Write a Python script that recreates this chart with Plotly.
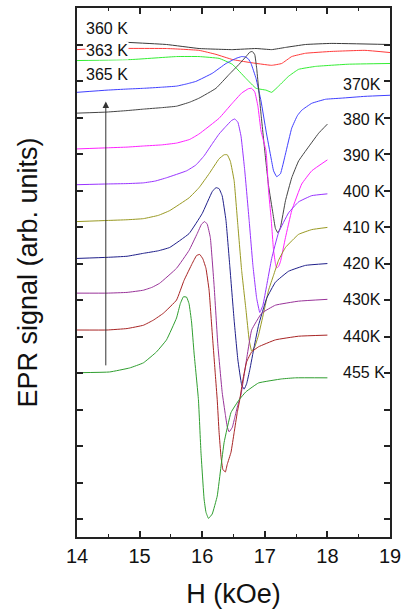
import plotly.graph_objects as go

# ---------------- data (H in kOe, signal in arb. units, offset per temperature) ----------------
H_360 = [14.79, 15.43, 15.95, 16.48, 16.86, 17.11, 17.33, 17.65, 18.06, 19.00]
S_360 = [13.06, 13.00, 12.89, 12.86, 12.89, 12.86, 12.92, 13.00, 13.03, 13.00]

H_363 = [14.00, 14.37, 15.43, 15.95, 16.22, 16.48, 16.75, 17.11, 17.27, 17.43, 17.65, 18.06, 18.60, 19.00]
S_363 = [12.86, 12.89, 12.89, 12.84, 12.73, 12.59, 12.51, 12.43, 12.48, 12.67, 12.76, 12.81, 12.84, 12.78]

H_365 = [14.00, 14.89, 15.59, 15.95, 16.27, 16.48, 16.70, 16.86, 17.02, 17.11, 17.22, 17.38, 17.54, 17.81, 18.33, 19.00]
S_365 = [12.56, 12.59, 12.67, 12.67, 12.62, 12.46, 12.07, 11.80, 11.75, 11.69, 11.86, 12.13, 12.32, 12.40, 12.46, 12.48]

H_370 = [14.00, 14.48, 14.80, 15.06, 15.35, 15.59, 15.75, 15.90, 16.16, 16.38, 16.54, 16.63, 16.69, 16.74, 16.78,
         16.86, 16.94, 17.02, 17.10, 17.14, 17.19, 17.25, 17.33, 17.43, 17.52, 17.59, 17.75, 17.97, 18.22,
         18.60, 19.00]
S_370 = [11.69, 11.75, 11.78, 11.80, 11.83, 11.86, 11.92, 11.99, 12.21, 12.48, 12.62, 12.67, 12.66, 12.60, 12.48,
         12.07, 11.45, 10.63, 9.89, 9.54, 9.38, 9.46, 10.00, 10.71, 11.05, 11.20, 11.39, 11.50, 11.53,
         11.58, 11.61]

H_380 = [14.00, 14.48, 14.80, 15.06, 15.35, 15.59, 15.80, 15.95, 16.22, 16.43, 16.59, 16.70, 16.76, 16.80, 16.84,
         16.87, 16.94, 17.00, 17.06, 17.13, 17.17, 17.21, 17.25, 17.33, 17.43, 17.54, 17.65, 17.86, 18.00]
S_380 = [11.12, 11.15, 11.19, 11.23, 11.27, 11.31, 11.42, 11.53, 11.80, 12.18, 12.46, 12.67, 12.79, 12.81, 12.72,
         12.35, 11.09, 10.08, 9.13, 8.37, 7.96, 7.84, 7.99, 8.72, 9.35, 9.81, 10.08, 10.57, 10.82]

H_390 = [14.00, 14.48, 14.80, 15.06, 15.35, 15.59, 15.80, 15.95, 16.27, 16.48, 16.63, 16.74, 16.79, 16.84, 16.89,
         16.94, 17.02, 17.06, 17.10, 17.14, 17.17, 17.19, 17.22, 17.25, 17.33, 17.43, 17.59, 17.75, 18.00]
S_390 = [10.14, 10.17, 10.19, 10.22, 10.25, 10.30, 10.40, 10.55, 10.98, 11.39, 11.67, 11.79, 11.80, 11.70, 11.31,
         10.63, 10.08, 8.99, 8.26, 7.36, 7.00, 6.88, 6.92, 7.05, 7.71, 8.45, 9.18, 9.54, 9.84]

H_400 = [14.00, 14.48, 14.80, 15.06, 15.25, 15.43, 15.75, 15.90, 16.03, 16.16, 16.27, 16.38, 16.47, 16.52, 16.57,
         16.62, 16.68, 16.75, 16.81, 16.87, 16.92, 16.97, 17.03, 17.11, 17.22, 17.38, 17.54, 17.75, 18.00]
S_400 = [9.16, 9.18, 9.19, 9.21, 9.26, 9.35, 9.54, 9.70, 9.95, 10.28, 10.55, 10.76, 10.92, 10.96, 10.87,
         10.49, 9.54, 8.18, 6.95, 6.05, 5.66, 5.86, 6.40, 7.14, 7.85, 8.39, 8.69, 8.86, 8.91]

H_410 = [14.00, 14.48, 14.80, 15.06, 15.30, 15.48, 15.79, 15.95, 16.11, 16.27, 16.35, 16.40, 16.45, 16.51, 16.57,
         16.63, 16.70, 16.75, 16.79, 16.84, 16.90, 16.98, 17.06, 17.14, 17.22, 17.33, 17.54, 17.75, 18.00]
S_410 = [8.15, 8.18, 8.20, 8.23, 8.32, 8.45, 8.80, 9.08, 9.46, 9.87, 9.98, 9.98, 9.80, 9.27, 8.04,
         6.81, 5.72, 4.91, 4.60, 4.72, 5.04, 5.64, 6.27, 6.68, 7.09, 7.44, 7.80, 7.93, 7.99]

H_420 = [14.00, 14.48, 14.80, 15.06, 15.30, 15.48, 15.79, 16.00, 16.16, 16.22, 16.27, 16.32, 16.38, 16.44, 16.51,
         16.57, 16.63, 16.67, 16.71, 16.76, 16.83, 16.90, 17.03, 17.17, 17.38, 17.65, 18.00]
S_420 = [7.14, 7.17, 7.20, 7.28, 7.35, 7.44, 7.82, 8.37, 8.97, 9.08, 9.05, 8.85, 8.18, 6.95, 5.45,
         4.36, 3.68, 3.56, 3.71, 4.09, 4.72, 5.31, 6.05, 6.49, 6.79, 6.95, 7.00]

H_430 = [14.00, 14.48, 14.80, 15.06, 15.20, 15.32, 15.59, 15.79, 15.92, 15.99, 16.04, 16.08, 16.13, 16.19, 16.25,
         16.32, 16.37, 16.40, 16.43, 16.48, 16.52, 16.57, 16.62, 16.70, 16.79, 16.95, 17.17, 17.54, 18.00]
S_430 = [6.19, 6.19, 6.21, 6.27, 6.35, 6.46, 6.87, 7.36, 7.82, 8.08, 8.15, 8.08, 7.71, 6.40, 4.77,
         3.46, 2.86, 2.53, 2.39, 2.51, 2.78, 3.13, 3.41, 4.28, 5.18, 5.64, 5.86, 5.97, 6.02]

H_440 = [14.00, 14.48, 14.80, 15.06, 15.22, 15.38, 15.59, 15.71, 15.84, 15.91, 15.96, 16.01, 16.06, 16.11, 16.16,
         16.21, 16.24, 16.27, 16.30, 16.33, 16.37, 16.40, 16.46, 16.51, 16.56, 16.60, 16.65, 16.71, 16.79,
         16.90, 17.17, 17.54, 18.00]
S_440 = [5.18, 5.18, 5.22, 5.31, 5.45, 5.64, 6.00, 6.54, 7.00, 7.22, 7.25, 7.13, 6.87, 6.27, 5.10,
         3.95, 3.27, 2.37, 1.72, 1.36, 1.29, 1.50, 1.83, 2.37, 2.92, 3.27, 3.82, 4.31, 4.58,
         4.72, 4.91, 5.01, 5.04]

H_455 = [14.00, 14.52, 14.84, 15.06, 15.27, 15.43, 15.59, 15.65, 15.70, 15.75, 15.79, 15.83, 15.87, 15.94, 15.98,
         16.03, 16.06, 16.10, 16.16, 16.24, 16.30, 16.35, 16.46, 16.59, 16.70, 16.90, 17.27, 17.49, 18.00]
S_455 = [4.01, 4.03, 4.14, 4.28, 4.58, 4.91, 5.51, 5.90, 6.09, 6.08, 5.90, 5.40, 4.55, 3.27, 1.84,
         0.55, 0.19, 0.02, 0.14, 0.63, 1.44, 2.10, 2.92, 3.27, 3.49, 3.73, 3.84, 3.87, 3.87]

# right-hand / left-hand temperature labels
LEFT_LABELS = ["360 K", "363 K", "365 K"]
LEFT_LABEL_Y = [13.44, 12.84, 12.18]
RIGHT_LABELS = ["370K", "380 K", "390 K", "400 K", "410 K", "420 K", "430K", "440K", "455 K"]
RIGHT_LABEL_Y = [11.91, 10.95, 9.97, 8.98, 7.99, 7.00, 6.02, 5.01, 4.01]

X_TICKS = [14, 15, 16, 17, 18, 19]
Y_TICKS = list(range(0, 14))

# arrow (temperature direction)
ARROW_H = 14.46
ARROW_FROM = 4.17
ARROW_TO = 11.44

series = [
    (H_360, S_360, "#3a3a3a"),
    (H_363, S_363, "#ff3a3a"),
    (H_365, S_365, "#33ee33"),
    (H_370, S_370, "#4040ff"),
    (H_380, S_380, "#444444"),
    (H_390, S_390, "#ff22ff"),
    (H_400, S_400, "#9933ff"),
    (H_410, S_410, "#999922"),
    (H_420, S_420, "#1f1f8a"),
    (H_430, S_430, "#993399"),
    (H_440, S_440, "#a82424"),
    (H_455, S_455, "#2f9e2f"),
]

FONT = "Arial, Liberation Sans, sans-serif"

fig = go.Figure()
for hx, sy, col in series:
    fig.add_trace(go.Scatter(x=hx, y=sy, mode="lines",
                             line=dict(color=col, width=1, shape="spline", smoothing=0.3),
                             showlegend=False, hoverinfo="skip"))

annotations = []
for txt, yv in zip(LEFT_LABELS, LEFT_LABEL_Y):
    annotations.append(dict(x=14.12, y=yv, xref="x", yref="y", text=txt, showarrow=False,
                            xanchor="left", yanchor="middle",
                            bgcolor="white" if txt == "363 K" else None,
                            borderpad=0,
                            font=dict(family=FONT, size=16, color="#111")))
for txt, yv in zip(RIGHT_LABELS, RIGHT_LABEL_Y):
    annotations.append(dict(x=18.21, y=yv, xref="x", yref="y", text=txt, showarrow=False,
                            xanchor="left", yanchor="middle",
                            font=dict(family=FONT, size=16, color="#111")))
annotations.append(dict(x=ARROW_H, y=ARROW_TO, ax=ARROW_H, ay=ARROW_FROM, xref="x", yref="y",
                        axref="x", ayref="y", text="", showarrow=True, arrowhead=2,
                        arrowsize=1.3, arrowwidth=1, arrowcolor="#333"))

fig.update_layout(
    width=407, height=610,
    margin=dict(l=77, r=15, t=6, b=72),
    paper_bgcolor="white", plot_bgcolor="white",
    font=dict(family=FONT, color="#111"),
    annotations=annotations,
    xaxis=dict(range=[14, 19], tickvals=X_TICKS, ticks="inside", ticklen=6, tickwidth=1.5,
               tickcolor="#222", showline=True, linecolor="#222", linewidth=1.5, mirror="allticks",
               showgrid=False, zeroline=False, tickfont=dict(size=20, family=FONT, color="#111"),
               minor=dict(dtick=0.5, tick0=14, ticks="inside", ticklen=3, tickwidth=1, tickcolor="#222"),
               title=dict(text="H (kOe)", font=dict(size=27, family=FONT, color="#111"), standoff=18)),
    yaxis=dict(range=[-0.49, 14.0], tickvals=Y_TICKS, showticklabels=False, ticks="inside",
               ticklen=6, tickwidth=1.5, tickcolor="#222", showline=True, linecolor="#222",
               linewidth=1.5, mirror="allticks", showgrid=False, zeroline=False,
               title=dict(text="EPR signal (arb. units)", font=dict(size=27, family=FONT, color="#111"),
                          standoff=30)),
)

fig.write_html("out.html")
